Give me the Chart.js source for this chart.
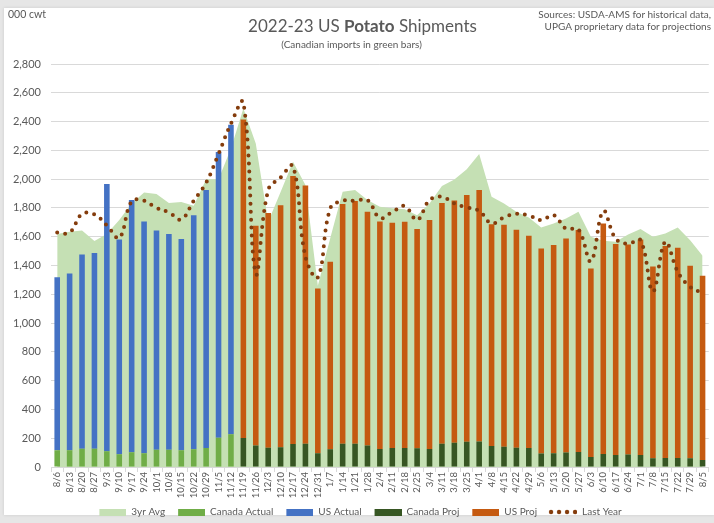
<!DOCTYPE html>
<html><head><meta charset="utf-8">
<script src="https://cdn.jsdelivr.net/npm/chart.js@4"></script>
<style>
html,body{margin:0;padding:0;background:#e6e6e6;}
#wrap{position:relative;width:714px;height:523px;overflow:hidden;}
#panel{position:absolute;left:4px;top:8px;right:0;bottom:8px;background:#fff;box-shadow:0 0 3px rgba(0,0,0,0.12);}
canvas{position:absolute;left:0;top:0;}
.t{position:absolute;font-family:Lato,sans-serif;color:#595959;white-space:nowrap;}
</style></head><body>
<div id="wrap">
<div id="panel"></div>
<canvas id="c" width="714" height="523"></canvas>
<div class="t" style="left:8px;top:8px;font-size:10.5px;">000 cwt</div>
<div class="t" style="left:0;width:725px;text-align:center;top:15px;font-size:17px;">2022-23 US <b>Potato</b> Shipments</div>
<div class="t" style="left:0;width:703px;text-align:center;top:38px;font-size:10px;">(Canadian imports in green bars)</div>
<div class="t" style="right:3px;top:8px;font-size:10px;text-align:right;line-height:12px;">Sources: USDA-AMS for historical data,<br>UPGA proprietary data for projections</div>
</div>
<script>
const categories = ['8/6','8/13','8/20','8/27','9/3','9/10','9/17','9/24','10/1','10/8','10/15','10/22','10/29','11/5','11/12','11/19','11/26','12/3','12/10','12/17','12/24','12/31','1/7','1/14','1/21','1/28','2/4','2/11','2/18','2/25','3/4','3/11','3/18','3/25','4/1','4/8','4/15','4/22','4/29','5/6','5/13','5/20','5/27','6/3','6/10','6/17','6/24','7/1','7/8','7/15','7/22','7/29','8/5'];

const N = null;
const canadaActual = [116,116,127,127,109,88,102,95,120,120,116,123,132,204,227,
  N,N,N,N,N,N,N,N,N,N,N,N,N,N,N,N,N,N,N,N,N,N,N,N,N,N,N,N,N,N,N,N,N,N,N,N,N,N];
const usActual = [1202,1229,1350,1360,1857,1492,1753,1611,1524,1498,1468,1627,1792,1984,2151,
  N,N,N,N,N,N,N,N,N,N,N,N,N,N,N,N,N,N,N,N,N,N,N,N,N,N,N,N,N,N,N,N,N,N,N,N,N,N];
const canadaProj = [N,N,N,N,N,N,N,N,N,N,N,N,N,N,N,
  201,150,134,137,160,162,95,123,162,162,150,125,132,132,130,125,162,169,176,178,
  146,141,134,132,93,95,100,104,69,90,83,86,83,60,63,63,60,49];
const usProj = [N,N,N,N,N,N,N,N,N,N,N,N,N,N,N,
  2214,1526,1630,1681,1861,1794,1146,1303,1665,1686,1624,1581,1565,1572,1523,1591,1672,1683,1713,1746,
  1541,1542,1514,1474,1425,1447,1488,1542,1311,1602,1466,1460,1498,1333,1472,1460,1338,1280];
const avg3yr = [1618,1635,1644,1570,1618,1716,1831,1908,1896,1834,1841,1815,2000,2000,2213,
  2490,2248,1704,1910,2121,1959,1260,1590,1912,1924,1855,1808,1797,1790,1750,1831,1952,1998,2068,2174,
  1877,1831,1773,1734,1664,1692,1727,1773,1600,1572,1565,1616,1653,1600,1623,1664,1576,1467];
const lastYear = [1630,1628,1758,1755,1678,1592,1845,1850,1800,1770,1720,1850,1975,2175,2385,
  2533,1345,1924,2012,2090,1461,1317,1797,1850,1850,1855,1730,1771,1813,1716,1855,1878,1831,1804,1780,
  1692,1734,1759,1748,1715,1750,1655,1650,1430,1778,1586,1551,1576,1220,1565,1356,1252,1210];
const yTicks = [0,200,400,600,800,1000,1200,1400,1600,1800,2000,2200,2400,2600,2800];

const COLORS = {avg:'#C5E0B4', caA:'#70AD47', usA:'#4472C4', caP:'#375623', usP:'#C55A11', ly:'#843C0C'};

// legend swatches: 11px transparent lead-in acts as the gap between legend entries
function rectImg(color){
  const c=document.createElement('canvas'); c.width=38; c.height=7;
  const g=c.getContext('2d'); g.fillStyle=color; g.fillRect(11,0,27,7); return c;
}
function dotImg(color){
  const c=document.createElement('canvas'); c.width=38; c.height=6;
  const g=c.getContext('2d'); g.fillStyle=color;
  [13,21,29,37].forEach(x=>{g.beginPath(); g.arc(x-1,3,2.2,0,Math.PI*2); g.fill();});
  return c;
}

const legendDefs = [
  ['3yr Avg', rectImg(COLORS.avg), 0],
  ['Canada Actual', rectImg(COLORS.caA), 1],
  ['US Actual', rectImg(COLORS.usA), 2],
  ['Canada Proj', rectImg(COLORS.caP), 3],
  ['US Proj', rectImg(COLORS.usP), 4],
  ['Last Year', dotImg(COLORS.ly), 5]
];

new Chart(document.getElementById('c'), {
  type: 'bar',
  data: {
    labels: categories,
    datasets: [
      {type:'line', label:'3yr Avg', data: avg3yr, stack:'avg', fill:'origin',
        backgroundColor: COLORS.avg, borderWidth:0, pointRadius:0, tension:0, order:3},
      {label:'Canada Actual', data: canadaActual, backgroundColor: COLORS.caA, stack:'bars', order:2},
      {label:'US Actual', data: usActual, backgroundColor: COLORS.usA, stack:'bars', order:2},
      {label:'Canada Proj', data: canadaProj, backgroundColor: COLORS.caP, stack:'bars', order:2},
      {label:'US Proj', data: usProj, backgroundColor: COLORS.usP, stack:'bars', order:2},
      {type:'line', label:'Last Year', data: lastYear, stack:'ly', fill:false,
        borderColor: COLORS.ly, borderWidth:4, borderDash:[0,8], borderCapStyle:'round',
        pointRadius:0, tension:0.4, order:1}
    ]
  },
  options: {
    responsive:false,
    animation:false,
    devicePixelRatio:1,
    barPercentage:0.45,
    categoryPercentage:1,
    layout:{padding:{top:64, left:0, right:4, bottom:0}},
    scales:{
      x:{
        stacked:true,
        grid:{offset:true, display:true, drawOnChartArea:false, drawTicks:true, tickLength:5, color:'#d9d9d9'},
        border:{display:true, color:'#d9d9d9'},
        ticks:{autoSkip:false, maxRotation:90, minRotation:90, padding:0, color:'#595959',
          font:{family:'Lato', size:9.5}},
        afterFit: s => { s.height = 38; }
      },
      y:{
        stacked:true, min:0, max:2800,
        afterBuildTicks: s => { s.ticks = yTicks.map(v => ({value:v})); },
        ticks:{padding:10, color:'#595959', font:{family:'Lato', size:11},
          callback: v => Number(v).toLocaleString('en-US')},
        grid:{color:'#d9d9d9', drawTicks:false},
        border:{display:false},
        afterFit: s => { s.width = 51; }
      }
    },
    plugins:{
      title:{display:false},
      tooltip:{enabled:false},
      legend:{
        position:'bottom',
        maxHeight:18,
        labels:{
          usePointStyle:true, pointStyleWidth:38, padding:2, color:'#595959',
          font:{family:'Lato', size:10},
          generateLabels: () => legendDefs.map(d => ({
            text:d[0], pointStyle:d[1], fillStyle:'rgba(0,0,0,0)', strokeStyle:'rgba(0,0,0,0)',
            lineWidth:0, hidden:false, datasetIndex:d[2], fontColor:'#595959'
          }))
        }
      }
    }
  }
});
</script>
</body></html>
